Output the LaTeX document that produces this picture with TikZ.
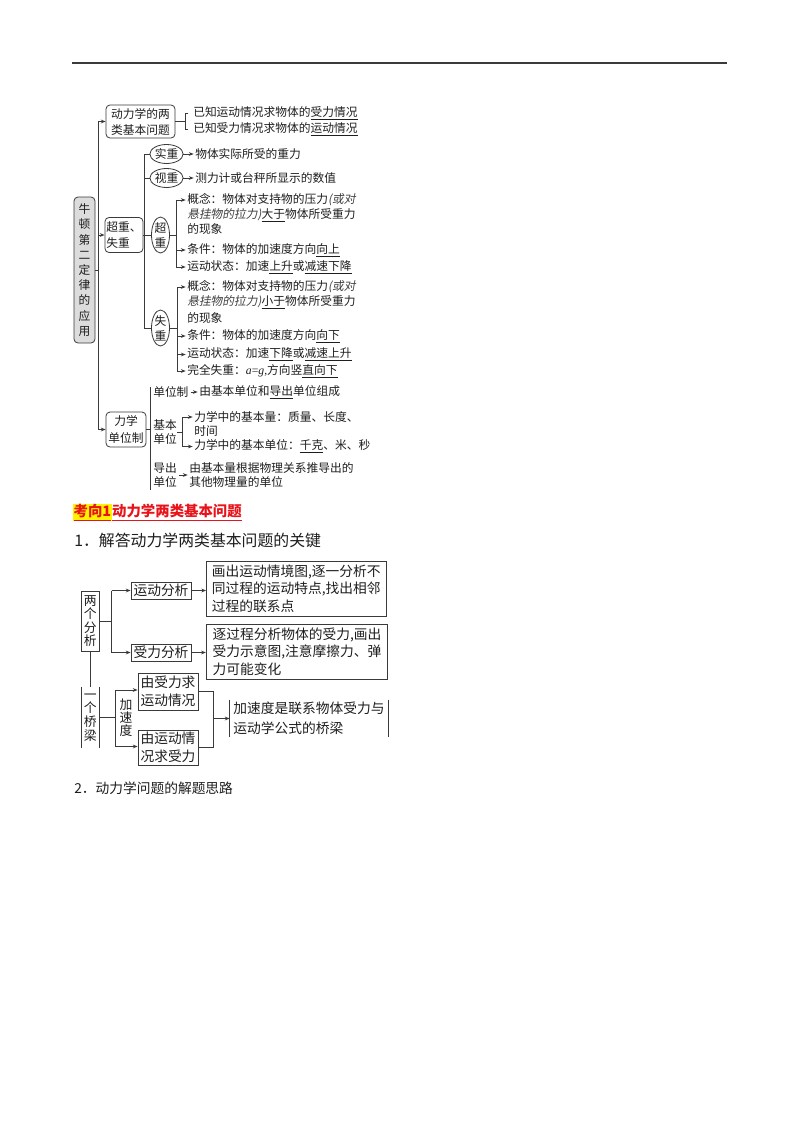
\documentclass[tikz,border=0pt]{standalone}
\usepackage{fontspec}
\setmainfont{Noto Sans CJK SC}
\newfontfamily\kaiit[FakeSlant=0.18]{Noto Sans CJK SC}
\newfontfamily\latser{Liberation Serif}
\usetikzlibrary{shapes.geometric,arrows.meta}
\newcommand{\udl}[1]{\underline{#1}}
\newcommand{\kaitxt}[1]{{\kaiit\color{black!75}#1}}
\definecolor{lncol}{HTML}{3A3A3A}
\definecolor{txcol}{HTML}{1E1E1E}
\definecolor{rootfill}{HTML}{DCDCDC}
\definecolor{hlred}{HTML}{E8141B}
\definecolor{hlyel}{HTML}{FFF200}
\begin{document}
\begin{tikzpicture}[x=0.75pt,y=-0.75pt,
  conn/.style={draw=lncol, line width=0.6pt},
  arr/.style={conn, -{Stealth[length=3.6pt,width=2.8pt]}},
  txt/.style={anchor=west, inner sep=0pt, text=txcol, font=\fontsize{8.8pt}{10.8pt}\selectfont},
  rbox/.style={draw=lncol, line width=0.6pt, rounded corners=3pt, inner sep=0pt, align=center, text=txcol},
  ell/.style={ellipse, draw=lncol, line width=0.6pt, inner sep=0pt, align=center, text=txcol},
  sbox/.style={draw=lncol, line width=0.6pt, inner sep=0pt, align=left, text=txcol, font=\fontsize{10.3pt}{13.1pt}\selectfont},
  vbox/.style={inner sep=0pt, align=center, text=txcol},
  head/.style={anchor=west, inner sep=0pt, text=txcol}]
\useasboundingbox (0,0) rectangle (800,1132);
\fill[white] (0,0) rectangle (800,1132);
% header rule
\coordinate (hl) at (72,63);
\coordinate (hr) at (727,63);
\draw[lncol, line width=1.2pt] (hl) -- (hr);

% ================= diagram 1 =================
\node[rbox, fill=rootfill, minimum width=15.75pt, minimum height=109.5pt,
      font=\fontsize{8.8pt}{11.4pt}\selectfont] (root) at (84.5,270)
      {牛\\顿\\第\\二\\定\\律\\的\\应\\用};
\node[rbox, minimum width=51.75pt, minimum height=24.75pt,
      font=\fontsize{8.8pt}{12pt}\selectfont] (b1) at (140.5,121.5) {动力学的两\\类基本问题};
\node[rbox, align=left, minimum width=28.5pt, minimum height=26.25pt,
      font=\fontsize{8.8pt}{12.5pt}\selectfont] (b2) at (124,235) {超重、\\失重};
\node[rbox, minimum width=30pt, minimum height=26.25pt,
      font=\fontsize{8.8pt}{12.5pt}\selectfont] (b3) at (126,429.5) {力学\\单位制};

% trunk
\coordinate (t1) at (98,121.5);
\coordinate (t2) at (98,235);
\coordinate (t3) at (98,429.5);
\draw[conn] (root.east) -- (root.east -| t1);
\draw[conn] (t1) -- (t3);
\draw[arr] (t1) -- (b1.west);
\draw[arr] (t2) -- (b2.west);
\draw[arr] (t3) -- (b3.west);

% two basic problems
\node[txt] (r1) at (193,113) {已知运动情况求物体的\udl{受力情况}};
\node[txt] (r2) at (193,129.5) {已知受力情况求物体的\udl{运动情况}};
\coordinate (k1) at (185,113);
\coordinate (k2) at (185,129.5);
\draw[conn] (b1.east) -- (b1.east -| k1);
\draw[conn, shorten <=3.5pt, shorten >=3.5pt] (r1.west) -- (k1) -- (k2) -- (r2.west);

% ellipses
\node[ell, minimum width=24.75pt, minimum height=14.25pt, font=\fontsize{8.8pt}{10pt}\selectfont] (e1) at (166.5,154) {实重};
\node[ell, minimum width=24.75pt, minimum height=14.25pt, font=\fontsize{8.8pt}{10pt}\selectfont] (e2) at (166.5,178) {视重};
\node[ell, minimum width=13.5pt, minimum height=27pt, font=\fontsize{8.8pt}{11.3pt}\selectfont] (e3) at (160.5,235) {超\\重};
\node[ell, minimum width=13.5pt, minimum height=27pt, font=\fontsize{8.8pt}{11.3pt}\selectfont] (e4) at (160.5,328) {失\\重};

\coordinate (s1) at (144,154);
\coordinate (s2) at (144,178);
\coordinate (s4) at (144,328);
\draw[conn] (e1.west) -- (s1) -- (s4) -- (e4.west);
\draw[conn] (s2) -- (e2.west);
\draw[conn] (b2.east) -- (e3.west);

\node[txt] (n1) at (195,154) {物体实际所受的重力};
\node[txt] (n2) at (195,178) {测力计或台秤所显示的数值};
\draw[arr, shorten >=1pt] (e1.east) -- (n1.west);
\draw[arr, shorten >=1pt] (e2.east) -- (n2.west);

% overweight
\node[txt] (p1) at (187,200) {概念：物体对支持物的压力\kaitxt{(或对}};
\node[txt] (p2) at (187,215) {\kaitxt{悬挂物的拉力)}\udl{大于}物体所受重力};
\node[txt] (p3) at (187,229.5) {的现象};
\node[txt] (p4) at (187,250) {条件：物体的加速度方向\udl{向上}};
\node[txt] (p5) at (187,267) {运动状态：加速\udl{上升}或\udl{减速下降}};
\coordinate (c1) at (176,200);
\coordinate (c2) at (176,267);
\draw[conn] (e3.east) -- (e3.east -| c1);
\draw[conn] (c1) -- (c2);
\draw[arr, shorten >=1pt] (c1) -- (p1.west);
\draw[arr, shorten >=1pt] (c1 |- p4.west) -- (p4.west);
\draw[arr, shorten >=1pt] (c2) -- (p5.west);

% weightlessness
\node[txt] (q1) at (187,287) {概念：物体对支持物的压力\kaitxt{(或对}};
\node[txt] (q2) at (187,302.5) {\kaitxt{悬挂物的拉力)}\udl{小于}物体所受重力};
\node[txt] (q3) at (187,318) {的现象};
\node[txt] (q4) at (187,336) {条件：物体的加速度方向\udl{向下}};
\node[txt] (q5) at (187,354.5) {运动状态：加速\udl{下降}或\udl{减速上升}};
\node[txt] (q6) at (187,371) {完全失重：{\latser\itshape a}{\latser =}{\latser\itshape g}{\latser ,}方向竖\udl{直向下}};
\coordinate (d1) at (177,287);
\coordinate (d2) at (177,371);
\draw[conn] (e4.east) -- (e4.east -| d1);
\draw[conn] (d1) -- (d2);
\draw[arr, shorten >=1pt] (d1) -- (q1.west);
\draw[arr, shorten >=1pt] (d1 |- q4.west) -- (q4.west);
\draw[arr, shorten >=1pt] (d1 |- q5.west) -- (q5.west);
\draw[arr, shorten >=1pt] (d2) -- (q6.west);

% units
\coordinate (w1) at (150,387);
\coordinate (w2) at (150,490);
\draw[conn] (w1) -- (w2);
\draw[conn] (b3.east) -- (b3.east -| w1);
\node[txt] (u1) at (153,392) {单位制};
\node[txt, align=left, font=\fontsize{8.8pt}{10.1pt}\selectfont] (u2) at (153,432) {基本\\单位};
\node[txt, align=left, font=\fontsize{8.8pt}{11pt}\selectfont] (u3) at (153,475) {导出\\单位};
\node[txt] (v1) at (199,392) {由基本单位和\udl{导出}单位组成};
\draw[arr, shorten <=1.5pt, shorten >=1pt] (u1.east) -- (v1.west);
\node[txt] (v2) at (194,417) {力学中的基本量：质量、长度、};
\node[txt] (v3) at (194,431.5) {时间};
\node[txt] (v4) at (194,446.5) {力学中的基本单位：\udl{千克}、米、秒};
\coordinate (g1) at (182,417);
\coordinate (g2) at (182,446.5);
\draw[conn] (u2.east) -- (u2.east -| g1);
\draw[conn] (g1) -- (g2);
\draw[arr, shorten >=1pt] (g1) -- (v2.west);
\draw[arr, shorten >=1pt] (g2) -- (v4.west);
\node[txt] (v5) at (189,467.7) {由基本量根据物理关系推导出的};
\node[txt] (v6) at (189,482.3) {其他物理量的单位};
\draw[arr, shorten <=1.5pt, shorten >=1pt] (u3.east) -- (u3.east -| v5.west);

% ================= headings =================
\node[anchor=west, inner sep=0.3pt, fill=hlyel, text=hlred,
      font=\fontsize{10.8pt}{12pt}\selectfont\bfseries] (kx1) at (73,512.5) {\udl{考向1}};
\node[anchor=west, inner sep=0pt, text=hlred,
      font=\fontsize{10.8pt}{12pt}\selectfont\bfseries] (kx2) at (kx1.east) {\udl{动力学两类基本问题}};
\node[head, font=\fontsize{11.9pt}{13pt}\selectfont] (h1) at (74,540) {1．解答动力学两类基本问题的关键};

% ================= diagram 2 =================
\node[vbox, draw=lncol, line width=0.6pt, minimum width=13.1pt, minimum height=45pt,
      font=\fontsize{9.6pt}{9.9pt}\selectfont] (A1) at (90.25,621) {两\\个\\分\\析};
\node[sbox, align=center, minimum width=45pt, minimum height=12.75pt] (B1) at (161,590.5) {运动分析};
\node[sbox, align=center, minimum width=45pt, minimum height=12.75pt] (B2) at (161,652.5) {受力分析};
\node[sbox, minimum width=134.6pt, minimum height=41.6pt] (C1) at (296.25,588.75)
     {画出运动情境图,逐一分析不\\同过程的运动特点,找出相邻\\过程的联系点};
\node[sbox, minimum width=136.1pt, minimum height=41.25pt] (C2) at (297,651.5)
     {逐过程分析物体的受力,画出\\受力示意图,注意摩擦力、弹\\力可能变化};
\coordinate (m1) at (111.7,590.5);
\coordinate (m2) at (111.7,652.5);
\draw[conn] (A1.east) -- (A1.east -| m1);
\draw[conn] (m1) -- (m2);
\draw[arr] (m1) -- (B1.west);
\draw[arr] (m2) -- (B2.west);
\draw[arr] (B1.east) -- (B1.east -| C1.west);
\draw[arr] (B2.east) -- (B2.east -| C2.west);

\node[vbox, minimum width=13.1pt, minimum height=45.75pt,
      font=\fontsize{9.6pt}{10.3pt}\selectfont] (A2) at (90.25,717.5) {一\\个\\桥\\梁};
\draw[conn] (A2.north west) -- (A2.south west);
\draw[conn] (A2.north east) -- (A2.south east);
\draw[conn] (A1.south) -- (A2.north);

\node[vbox, font=\fontsize{9.6pt}{9.6pt}\selectfont] (J) at (126,717.5) {加\\速\\度};
\node[sbox, minimum width=45pt, minimum height=27.75pt] (D1) at (168,691.5) {由受力求\\运动情况};
\node[sbox, minimum width=45pt, minimum height=26.25pt] (D2) at (168,747.5) {由运动情\\况求受力};
\coordinate (jb) at (115,718);
\coordinate (j1) at (115,690);
\coordinate (j2) at (115,746.5);
\draw[conn] (A2.east) -- (A2.east -| jb);
\draw[conn] (j1) -- (j2);
\draw[arr] (j1) -- (j1 -| D1.west);
\draw[arr] (j2) -- (j2 -| D2.west);

\node[sbox, draw=none, minimum width=118.5pt, minimum height=27.75pt,
      font=\fontsize{10.3pt}{15pt}\selectfont] (E) at (309,718.5) {加速度是联系物体受力与\\运动学公式的桥梁};
\draw[conn] (E.north west) -- (E.south west);
\draw[conn] (E.north east) -- (E.south east);
\coordinate (o1) at (213,691.5);
\coordinate (o2) at (213,747.5);
\coordinate (om) at (213,718.5);
\draw[conn] (D1.east) -- (o1) -- (o2) -- (D2.east);
\draw[arr] (om) -- (E.west);

\node[head, font=\fontsize{10.3pt}{12pt}\selectfont] (h2) at (74,788) {2．动力学问题的解题思路};
\end{tikzpicture}
\end{document}
